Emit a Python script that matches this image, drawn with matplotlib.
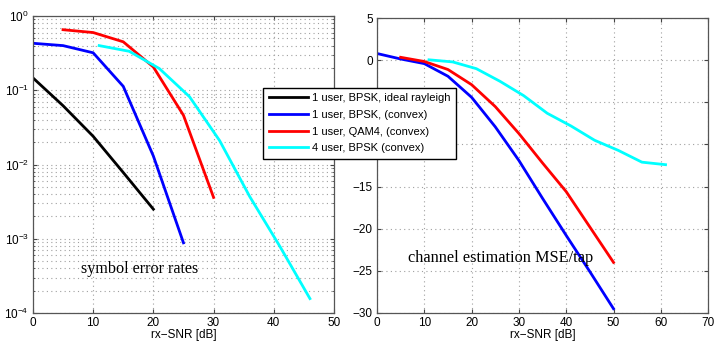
import matplotlib
matplotlib.use("Agg")
import matplotlib.pyplot as plt
from matplotlib.lines import Line2D
from matplotlib.ticker import LogLocator, NullFormatter

plt.rcParams["font.family"] = ["Liberation Sans", "DejaVu Sans"]

# symbol error rates (left)
ser_black_x = [0, 5, 10, 15, 20]
ser_black_y = [0.147, 0.062, 0.024, 0.0078, 0.0025]
ser_blue_x = [0, 5, 10, 15, 20, 25]
ser_blue_y = [0.43, 0.40, 0.32, 0.113, 0.013, 0.00088]
ser_red_x = [5, 10, 15, 20, 25, 30]
ser_red_y = [0.655, 0.60, 0.45, 0.206, 0.046, 0.0036]
ser_cyan_x = [11, 16, 21, 26, 31, 36, 41, 46]
ser_cyan_y = [0.40, 0.335, 0.196, 0.082, 0.021, 0.0037, 0.00079, 0.000156]

# channel estimation MSE/tap (right)
mse_blue_x = [0, 5, 10, 15, 20, 25, 30, 35, 40, 45, 50]
mse_blue_y = [0.8, 0.15, -0.4, -1.9, -4.4, -7.9, -11.9, -16.4, -20.8, -25.1, -29.5]
mse_red_x = [5, 10, 15, 20, 25, 30, 35, 40, 45, 50]
mse_red_y = [0.35, -0.15, -1.1, -2.9, -5.5, -8.7, -12.2, -15.6, -19.8, -24.0]
mse_cyan_x = [11, 16, 21, 26, 31, 36, 41, 46, 51, 56, 61]
mse_cyan_y = [0.05, -0.2, -1.0, -2.5, -4.2, -6.3, -7.8, -9.5, -10.7, -12.1, -12.4]

legend_labels = [
    "1 user, BPSK, ideal rayleigh",
    "1 user, BPSK, (convex)",
    "1 user, QAM4, (convex)",
    "4 user, BPSK (convex)",
]
colors = ["black", "#0000ff", "#ff0000", "#00ffff"]

fig = plt.figure(figsize=(7.16, 3.42), dpi=100)
ax1 = fig.add_axes([0.046, 0.085, 0.4205, 0.868])
ax2 = fig.add_axes([0.5265, 0.085, 0.4625, 0.862])

grid_kw = dict(linestyle=(0, (1, 3)), color="#a0a0a0", lw=0.8)

lw = 2.0
ax1.semilogy(ser_black_x, ser_black_y, color=colors[0], lw=lw)
ax1.semilogy(ser_blue_x, ser_blue_y, color=colors[1], lw=lw)
ax1.semilogy(ser_red_x, ser_red_y, color=colors[2], lw=lw)
ax1.semilogy(ser_cyan_x, ser_cyan_y, color=colors[3], lw=lw)
ax1.set_xlim(0, 50)
ax1.set_ylim(1e-4, 1)
ax1.set_xticks([0, 10, 20, 30, 40, 50])
ax1.yaxis.set_major_locator(LogLocator(base=10, numticks=10))
ax1.yaxis.set_minor_locator(LogLocator(base=10, subs=range(2, 10), numticks=10))
ax1.yaxis.set_minor_formatter(NullFormatter())
ax1.grid(True, which="major", **grid_kw)
ax1.grid(True, which="minor", axis="y", **grid_kw)
ax1.text(8, 3.9e-4, "symbol error rates", family="Liberation Serif",
         fontsize=11.6, va="center")

ax2.plot(mse_blue_x, mse_blue_y, color=colors[1], lw=lw)
ax2.plot(mse_red_x, mse_red_y, color=colors[2], lw=lw)
ax2.plot(mse_cyan_x, mse_cyan_y, color=colors[3], lw=lw)
ax2.set_xlim(0, 70)
ax2.set_ylim(-30, 5)
ax2.set_xticks(range(0, 71, 10))
ax2.set_yticks(range(-30, 6, 5))
ax2.grid(True, **grid_kw)
ax2.text(6.6, -23.5, "channel estimation MSE/tap", family="Liberation Serif",
         fontsize=11.7, va="center")

for ax in (ax1, ax2):
    ax.set_xlabel("rx\u2212SNR [dB]", fontsize=8.5, labelpad=0)
    ax.tick_params(direction="in", top=True, right=True, labelsize=8.5,
                   length=3, pad=3, color="#444444")
    ax.tick_params(which="minor", direction="in", top=True, right=True,
                   length=1.5, color="#444444")
    for sp in ax.spines.values():
        sp.set_color("#555555")
        sp.set_linewidth(0.9)

handles = [Line2D([], [], color=c, lw=lw) for c in colors]
fig.legend(handles, legend_labels, loc="upper left",
           bbox_to_anchor=(0.360, 0.760), fontsize=8, frameon=True,
           fancybox=False, edgecolor="black", framealpha=1,
           handlelength=3.5, borderpad=0.5, labelspacing=0.6,
           handletextpad=0.4)

fig.savefig("out.png", dpi=100)
